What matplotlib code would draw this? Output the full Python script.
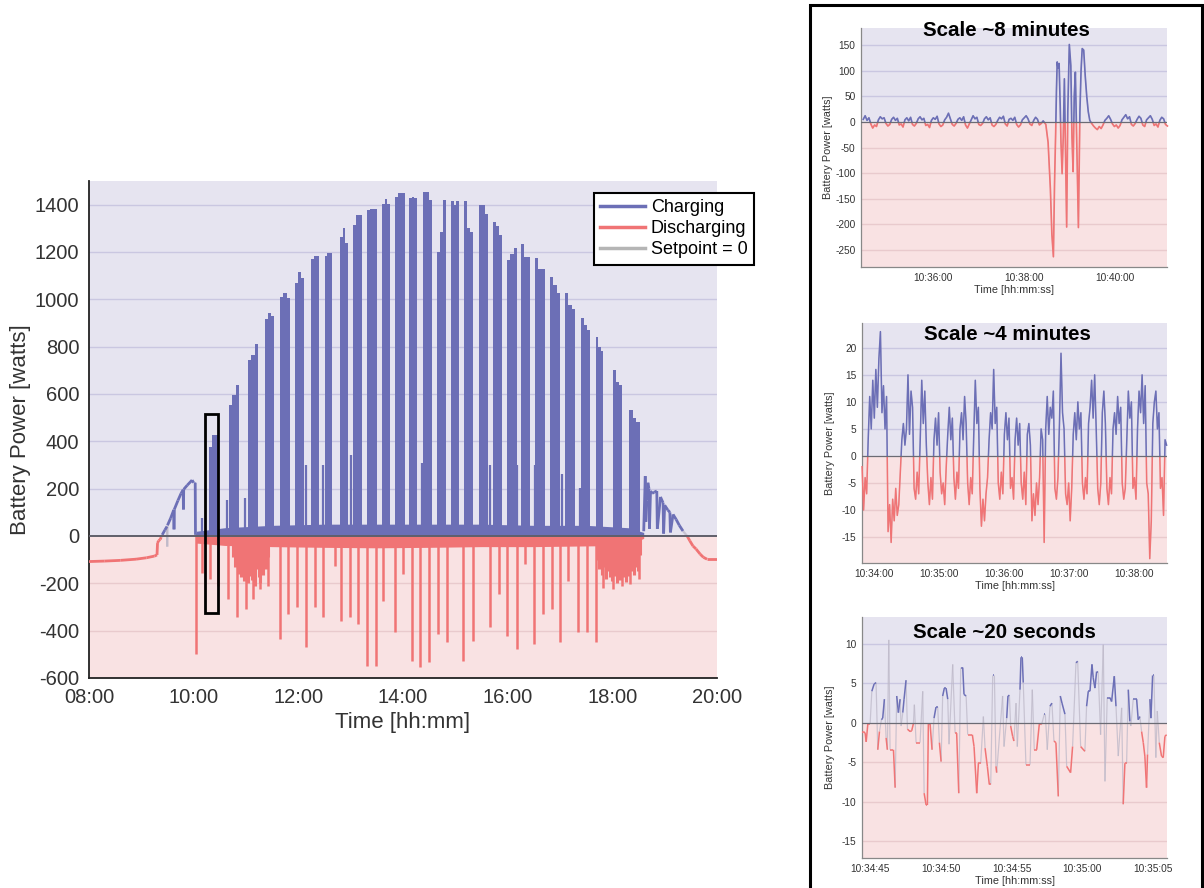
import numpy as np
import matplotlib.pyplot as plt
from matplotlib.collections import LineCollection
from matplotlib.lines import Line2D
from matplotlib.patches import Rectangle
from matplotlib.ticker import FuncFormatter

plt.rcParams['font.family'] = ['Liberation Sans', 'DejaVu Sans']
plt.rcParams['axes.unicode_minus'] = False

BLUE = '#6c6fb6'
RED = '#f07475'
CROSS = '#bdb8c8'
TOP_BG = '#e6e4f0'
BOT_BG = '#f9e2e3'
TOP_GRID = '#cac7e1'
BOT_GRID = '#e9cacd'

# ---------------- main chart data (time in hours, power in watts) ----------------
morning_h = [8.00, 8.30, 8.60, 8.90, 9.10, 9.25, 9.30, 9.31, 9.33, 9.36, 9.38, 9.40, 9.45,
             9.49, 9.495, 9.50, 9.56, 9.62, 9.625, 9.63, 9.70, 9.76, 9.80, 9.805, 9.81,
             9.88, 9.97, 10.00, 10.03, 10.035, 10.06]
morning_w = [-108, -106, -103, -98, -92, -85, -80, -30, -20, -15, -5, 5, 25,
             40, -45, 45, 75, 110, 28, 112, 150, 180, 195, 112, 197,
             215, 236, 225, 225, 5, 3]

evening_h = [18.60, 18.63, 18.64, 18.66, 18.68, 18.70, 18.71, 18.73, 18.76, 18.80, 18.85,
             18.86, 18.92, 18.97, 18.98, 19.00, 19.06, 19.10, 19.11, 19.16, 19.22, 19.28,
             19.35, 19.43, 19.48, 19.54, 19.60, 19.68, 19.74, 19.81, 20.00]
evening_w = [20, 253, 60, 150, 225, 200, 30, 190, 180, 185, 190,
             30, 165, 140, 10, 130, 110, 100, 15, 91, 70, 45,
             21, 0, -20, -42, -55, -77, -90, -98, -98]

cluster_start = [10.293, 10.675, 11.038, 11.363, 11.650, 11.936, 12.242, 12.510, 12.796, 13.045,
                 13.312, 13.599, 13.847, 14.115, 14.382, 14.650, 14.917, 15.166, 15.452, 15.720,
                 15.987, 16.255, 16.522, 16.809, 17.096, 17.401, 17.688, 18.013, 18.318]
cluster_end = [10.465, 10.866, 11.229, 11.535, 11.841, 12.108, 12.395, 12.643, 12.949, 13.217,
               13.503, 13.752, 14.038, 14.268, 14.554, 14.822, 15.070, 15.338, 15.624, 15.892,
               16.178, 16.427, 16.713, 17.000, 17.287, 17.573, 17.822, 18.185, 18.529]
cluster_peaks = [[376, 428, 428], [555, 597, 639], [744, 765, 810], [916, 941, 930],
                 [1011, 1028, 1005], [1070, 1117, 1092], [1170, 1184, 1184], [1184, 1197, 1197],
                 [1264, 1300, 1240], [1313, 1355, 1355], [1376, 1383, 1383], [1404, 1423, 1404],
                 [1433, 1448, 1448], [1426, 1433, 1426], [1453, 1453, 1420], [1200, 1285, 1421],
                 [1416, 1400, 1416], [1416, 1300, 1285], [1397, 1400, 1360], [1327, 1310, 1270],
                 [1166, 1190, 1215], [1233, 1180, 1180], [1173, 1128, 1130], [1096, 1060, 1025],
                 [1025, 976, 960], [920, 890, 870], [840, 800, 780], [702, 650, 640],
                 [534, 500, 480]]

red_spike_h = [10.045, 10.159, 10.312, 10.465, 10.656, 10.828, 11.00, 11.134, 11.268, 11.42,
               11.65, 11.80, 11.975, 12.146, 12.318, 12.471, 12.70, 12.815, 12.987, 13.14,
               13.31, 13.48, 13.62, 13.85, 14.00, 14.17, 14.325, 14.50, 14.67, 14.84,
               15.146, 15.34, 15.66, 15.83, 15.99, 16.18, 16.33, 16.50, 16.675, 16.85,
               17.00, 17.15, 17.34, 17.515, 17.69, 17.82, 18.01, 18.18, 18.34, 18.51]
red_spike_w = [-499, -155, -183, -211, -267, -344, -309, -267, -225, -211,
               -435, -330, -302, -470, -302, -344, -126, -358, -344, -372,
               -548, -548, -274, -407, -161, -527, -555, -534, -414, -449,
               -527, -442, -386, -246, -421, -477, -119, -456, -330, -309,
               -449, -190, -407, -407, -449, -218, -225, -211, -204, -183]

blue_spike_h = [10.16, 10.54, 10.64, 10.98, 12.15, 12.47, 12.85, 13.00, 13.88, 14.19,
                14.36, 14.73, 15.66, 16.06, 16.18, 16.52, 16.87, 17.04, 17.38, 17.76]
blue_spike_w = [77, 28, 150, 161, 302, 302, 512, 344, 372, 330,
                309, 274, 302, 344, 302, 302, 330, 260, 204, 218]

floor_h = [10.05, 10.6, 11.5, 12.5, 13.5, 14.5, 15.5, 16.5, 17.5, 18.3, 18.6]
floor_blue = [20, 35, 45, 50, 50, 50, 50, 45, 45, 35, 15]
floor_red = [-30, -40, -45, -48, -50, -48, -45, -45, -42, -40, -10]

# dense streaks of discharge around 11:00 and 18:00
mass1_h = [10.76, 10.79, 10.82, 10.85, 10.88, 10.91, 10.94, 10.97, 11.00, 11.03, 11.06, 11.09,
           11.12, 11.15, 11.18, 11.21, 11.24, 11.27, 11.30, 11.33, 11.36, 11.39, 11.42]
mass1_w = [-90, -130, -110, -160, -140, -175, -120, -190, -150, -200, -170, -130,
           -185, -160, -210, -140, -175, -200, -150, -165, -120, -140, -90]
mass2_h = [17.72, 17.75, 17.78, 17.81, 17.84, 17.87, 17.90, 17.93, 17.96, 17.99, 18.02, 18.05,
           18.08, 18.11, 18.14, 18.17, 18.20, 18.23, 18.26, 18.29, 18.32, 18.35, 18.38, 18.41,
           18.44, 18.47, 18.50, 18.53]
mass2_w = [-100, -140, -120, -165, -130, -180, -150, -120, -175, -190, -140, -170,
           -200, -150, -185, -130, -175, -160, -195, -140, -170, -150, -120, -165,
           -130, -110, -150, -80]

zoom_box = (10.217, 10.465, -324, 514)   # hours, hours, watts, watts
main_yticks = list(range(-600, 1401, 200))
main_xticks = [8, 10, 12, 14, 16, 18, 20]

# ---------------- inset 1: ~8 minutes ----------------
i1_start = '10:34:28'
i1_noise_a = [5, 12, 3, 8, -4, -12, -6, -9, 4, 10, 6, 8, -3, -8, -5, 5, 9, 3, 7, -6,
              -4, -10, 4, 8, 2, 9, -5, -8, -3, 6, 10, 4, 7, -7, -5, -11, 3, 8, 5, 11,
              -4, -9, -6, 4, 9, 17, 6, -5, -8, -3, 5, 8, 3, 10, -6, -12, -4, 4, 12, 6,
              9, -5, -7, -3, 6, 10, 4, 8, -6, -9, -5, 3, 9, 6, 11, -4, -8, 5, 7, 3,
              9, -5, -10, -6, 4, 8, 12, 6, -4, -7, 3, 9, 5, -6, -3, 2]
i1_burst_s = [241, 244, 247, 249, 251, 252.5, 254, 255, 256, 257, 258.5, 260, 261, 262.5,
              264, 265.5, 267, 268.5, 270, 272, 274, 275.5, 277, 278.5, 280, 282, 284, 286,
              287.5, 289, 291, 293, 295, 297, 299]
i1_burst_w = [-5, -40, -130, -220, -263, -120, -20, 60, 117, 105, 114, 30, -40, -101,
              -30, 84, -60, -205, 20, 151, 110, -30, -97, 50, 97, -60, -206, 20,
              100, 143, 140, 90, 50, 20, 3]
i1_noise_b = [-3, -8, -12, -15, -9, -13, -6, 3, 7, 12, 5, -4, -9, -6, -12, -7, 4, 9, 14, 6,
              10, -5, -8, -3, 5, 11, 7, -6, -9, 4, 8, 12, 5, -7, -4, -10, 3, 9, 6, -5, -8]
i1_step = 2.5

# ---------------- inset 2: ~4 minutes ----------------
i2_start = '10:33:49'
i2_step = 1.41
i2_w = [-2, -10, -4, -7, 3, 11, 5, 14, 7, 16, 9, 18, 23, 8, 13, 5, 11, -14, -9, -16,
        -8, -12, -6, -11, -9, -3, 3, 6, 2, 5, 15, 4, 12, 9, -6, -8, -3, -7, 3, 14,
        6, 12, 2, -5, -9, -4, -8, 3, 7, 2, 8, -3, -7, -5, -9, -2, 4, 9, 3, 7,
        -4, -8, -3, -6, 5, 8, 3, 11, 6, -5, -9, -4, -7, 4, 14, 6, 9, -6, -13, -8,
        -12, -7, -4, 3, 8, 5, 16, 6, 9, -5, -8, -3, -7, 4, 8, 3, 7, -6, -4, -8,
        3, 7, 2, 6, -5, -8, -3, -9, 4, 6, 2, -12, -7, -11, -5, -9, -4, 5, 3, -16,
        5, 11, 4, 9, 7, 12, -6, -8, -4, 6, 19, 8, 5, -7, -9, -5, -12, -6, 4, 8,
        3, 10, 5, 8, -5, -8, -4, -7, 6, 9, 14, 7, 15, 5, -6, -9, -5, 8, 12, 6,
        -6, -9, -4, -7, 5, 8, 4, 11, 6, 9, -5, -8, -6, 3, 12, 7, 10, -6, -4, -8,
        5, 12, 8, 15, 6, 13, -5, -7, -19, -12, 6, 10, 12, 5, 8, -6, -4, -11, 3, 2]

# ---------------- inset 3: ~20 seconds ----------------
i3_start = '10:34:45'
i3_s = [-0.64, -0.47, -0.35, -0.28, -0.16, 0.0, 0.12, 0.28, 0.42, 0.54,
        0.66, 0.80, 0.89, 1.01, 1.13, 1.22, 1.32, 1.41, 1.65, 1.77,
        1.88, 2.00, 2.12, 2.19, 2.31, 2.40, 2.54, 2.64, 2.83, 2.94,
        3.06, 3.13, 3.25, 3.53, 3.72, 3.82, 3.96, 4.05, 4.12, 4.24,
        4.38, 4.52, 4.66, 4.78, 4.90, 5.02, 5.13, 5.25, 5.37, 5.49,
        5.58, 5.84, 6.01, 6.12, 6.27, 6.41, 6.55, 6.64, 6.79, 6.90,
        7.23, 7.35, 7.54, 7.66, 7.82, 8.01, 8.13, 8.29, 8.43, 8.53,
        8.67, 8.79, 8.90, 8.95, 9.37, 9.47, 9.66, 9.75, 9.85, 9.94,
        10.08, 10.17, 10.32, 10.41, 10.60, 10.67, 10.76, 10.83, 11.02, 11.31,
        11.47, 11.61, 11.78, 11.97, 12.13, 12.32, 12.39, 12.53, 12.72, 12.86,
        13.00, 13.14, 13.31, 13.45, 13.57, 13.78, 13.90, 14.18, 14.32, 14.56,
        14.68, 14.89, 15.19, 15.31, 15.43, 15.55, 15.69, 15.78, 15.90, 16.02,
        16.13, 16.30, 16.49, 16.61, 16.77, 16.96, 17.08, 17.27, 17.39, 17.55,
        17.79, 17.90, 18.02, 18.14, 18.26, 18.37, 18.44, 18.61, 18.73, 18.85,
        18.96, 19.08, 19.20, 19.32, 19.43, 19.55, 19.62, 19.79, 19.86, 19.98,
        20.07, 20.21, 20.31, 20.45, 20.61, 20.73, 20.85, 20.97]
i3_w = [-1.3, -1.1, -1.3, -2.4, -0.1, -0.1, 4.0, 4.9, 5.1, -3.4,
        -1.1, 0.4, 0.6, 3.0, -1.9, -3.4, 10.5, -3.4, -3.4, -8.2,
        3.4, 1.3, 3.0, -0.4, 1.3, 3.0, 5.4, -0.8, -1.1, -1.0,
        -0.1, 2.3, -2.5, -2.5, 4.0, -8.9, -10.4, -10.4, -0.1, -0.1,
        -3.4, 0.6, 2.0, 2.0, -2.5, -4.9, 3.4, 4.4, 4.4, 3.0,
        -2.7, 7.4, -1.3, -1.3, -8.9, 7.0, 7.0, 3.6, 3.4, -1.5,
        -1.5, -3.0, -8.9, -5.1, -5.1, 0.8, -3.2, -5.5, -7.8, -7.8,
        6.0, 6.0, -5.5, -6.3, 3.4, -3.0, 0.6, 3.4, 3.5, -0.4,
        -1.7, -2.3, 2.5, -3.0, 4.2, 8.3, 8.3, 5.1, -5.3, -5.3,
        4.2, -3.4, -3.4, -0.1, -0.2, 1.1, 1.1, -3.4, 2.1, 2.5,
        -2.3, -2.5, -9.3, 3.4, 2.5, 1.1, -5.5, -6.3, -3.0, 7.6,
        7.8, -3.0, -3.6, 2.1, 4.0, 4.0, 7.4, 5.7, 4.4, 6.5,
        6.5, -1.5, 9.9, -7.4, 3.2, 3.2, 2.7, 5.9, 2.1, -4.2,
        1.9, -10.3, -5.1, -5.1, 4.2, 0.2, -0.4, 3.0, 3.0, 3.0,
        0.4, 0.8, -1.1, -2.5, -4.2, -8.2, -4.0, 3.0, 0.6, 6.0,
        6.0, -4.4, 1.5, -2.5, -4.2, -4.4, -1.7, -1.5]


def clock(s):
    parts = s.split(':')
    return int(parts[0]) * 3600 + int(parts[1]) * 60 + (float(parts[2]) if len(parts) > 2 else 0)


def hms(x, pos):
    x = int(round(x))
    return f'{x // 3600:02d}:{x % 3600 // 60:02d}:{x % 60:02d}'


def background(ax, lo, hi, yticks):
    ax.set_ylim(lo, hi)
    ax.axhspan(0, hi, color=TOP_BG, lw=0, zorder=0)
    ax.axhspan(lo, 0, color=BOT_BG, lw=0, zorder=0)
    for y in yticks:
        if y != 0:
            ax.axhline(y, color=TOP_GRID if y > 0 else BOT_GRID, lw=1, zorder=0.5)
    ax.set_yticks(yticks)
    for s in ('top', 'right'):
        ax.spines[s].set_visible(False)


def signed_line(ax, t, w, lw):
    # blue where both ends are above zero, red where both are below, faint grey across zero
    t = np.asarray(t, float)
    w = np.asarray(w, float)
    pts = np.column_stack([t, w])
    segs = np.stack([pts[:-1], pts[1:]], axis=1)
    a, b = w[:-1], w[1:]
    pos = (a > 0) & (b > 0)
    neg = (a <= 0) & (b <= 0)
    cross = ~(pos | neg)
    ax.add_collection(LineCollection(segs[cross], colors=CROSS, linewidths=lw * 0.8,
                                     alpha=0.75, zorder=2))
    ax.add_collection(LineCollection(segs[pos], colors=BLUE, linewidths=lw, zorder=3))
    ax.add_collection(LineCollection(segs[neg], colors=RED, linewidths=lw, zorder=3))


def clipped_line(ax, t, w, lw, lo, hi):
    # one line, painted blue above zero and red below
    ax.plot(t, w, color=CROSS, lw=lw * 0.7, alpha=0.6, zorder=2)
    x0, x1 = t[0] - 1e3, t[-1] + 1e3
    up, = ax.plot(t, w, color=BLUE, lw=lw, zorder=3)
    up.set_clip_path(Rectangle((x0, 0), x1 - x0, hi, transform=ax.transData))
    dn, = ax.plot(t, w, color=RED, lw=lw, zorder=3)
    dn.set_clip_path(Rectangle((x0, lo), x1 - x0, -lo, transform=ax.transData))


fig = plt.figure(figsize=(12.04, 8.88), dpi=100)

# ---------------- main chart ----------------
ax = fig.add_axes([0.0739, 0.2365, 0.5216, 0.5597])
background(ax, -600, 1500, main_yticks)
ax.set_xlim(8, 20)

ax.fill_between(floor_h, 0, floor_blue, color=BLUE, lw=0, zorder=2)
ax.fill_between(floor_h, 0, floor_red, color=RED, lw=0, zorder=2)
ax.vlines(mass1_h, 0, mass1_w, color=RED, lw=2.2, zorder=2)
ax.vlines(mass2_h, 0, mass2_w, color=RED, lw=2.2, zorder=2)

for t0, t1, pk in zip(cluster_start, cluster_end, cluster_peaks):
    edges = np.linspace(t0, t1, len(pk) + 1)
    ax.fill_between(edges, 0, list(pk) + [pk[-1]], step='post', color=BLUE, lw=0, zorder=2)

ax.vlines(red_spike_h, 0, red_spike_w, color=RED, lw=1.8, zorder=2)
ax.vlines(blue_spike_h, 0, blue_spike_w, color=BLUE, lw=1.6, zorder=2)
signed_line(ax, morning_h, morning_w, 2.0)
signed_line(ax, evening_h, evening_w, 2.0)
ax.axhline(0, color='#5f5f6a', lw=1.4, zorder=4)

bx0, bx1, by0, by1 = zoom_box
ax.add_patch(Rectangle((bx0, by0), bx1 - bx0, by1 - by0, fill=False,
                       edgecolor='black', lw=2.0, zorder=6))

ax.set_xticks(main_xticks)
ax.set_xticklabels([f'{h:02d}:00' for h in main_xticks])
ax.tick_params(length=0, labelsize=14.5, colors='#333333', pad=7)
for s in ('left', 'bottom'):
    ax.spines[s].set_color('#222222')
    ax.spines[s].set_linewidth(1.3)
ax.set_ylabel('Battery Power [watts]', fontsize=16, color='#333333')
ax.set_xlabel('Time [hh:mm]', fontsize=16, color='#333333')
ax.yaxis.set_label_coords(-0.093, 0.5)
ax.xaxis.set_label_coords(0.5, -0.068)

handles = [Line2D([], [], color=BLUE, lw=2.5),
           Line2D([], [], color=RED, lw=2.5),
           Line2D([], [], color='#b5b5b5', lw=2.5)]
leg = fig.legend(handles, ['Charging', 'Discharging', 'Setpoint = 0'],
                 loc='upper left', bbox_to_anchor=(594 / 1204, 1 - 193 / 888),
                 fontsize=13, fancybox=False, framealpha=1, edgecolor='black',
                 borderpad=0.35, labelspacing=0.22, handlelength=2.5,
                 handletextpad=0.3, borderaxespad=0)
leg.get_frame().set_linewidth(1.5)

# ---------------- right-hand panel ----------------
fig.patches.append(Rectangle((810 / 1204, -0.02), 392 / 1204, 1 - 5 / 888 + 0.02,
                             transform=fig.transFigure, fill=False,
                             edgecolor='black', lw=2.2))


def inset(rect, t, w, xlim, lo, hi, yticks, xticks, lw, title, tx, ty, clip):
    a = fig.add_axes(rect)
    background(a, lo, hi, yticks)
    if clip:
        clipped_line(a, np.asarray(t, float), np.asarray(w, float), lw, lo, hi)
    else:
        signed_line(a, t, w, lw)
    a.axhline(0, color='#6b6b74', lw=0.9, zorder=4)
    a.set_xlim(*xlim)
    a.set_xticks([clock(x) for x in xticks])
    a.xaxis.set_major_formatter(FuncFormatter(hms))
    a.tick_params(length=0, labelsize=7.3, colors='#333333', pad=4)
    for s in ('left', 'bottom'):
        a.spines[s].set_color('#888888')
        a.spines[s].set_linewidth(0.9)
    a.set_ylabel('Battery Power [watts]', fontsize=7.8, color='#333333')
    a.set_xlabel('Time [hh:mm:ss]', fontsize=7.8, color='#333333')
    a.yaxis.set_label_coords(-0.09, 0.5)
    a.xaxis.set_label_coords(0.5, -0.075)
    fig.text(tx / 1204, 1 - ty / 888, title, ha='center', va='center',
             fontsize=14.8, fontweight='bold')
    return a


t1a = clock(i1_start) + np.arange(len(i1_noise_a)) * i1_step
t1b = clock(i1_start) + np.asarray(i1_burst_s)
t1c = clock(i1_start) + 301.5 + np.arange(len(i1_noise_b)) * i1_step
inset([0.7151, 0.6993, 0.2542, 0.2691],
      np.r_[t1a, t1b, t1c], i1_noise_a + i1_burst_w + i1_noise_b,
      (clock('10:34:25'), clock('10:41:09')), -283, 183, list(range(-250, 151, 50)),
      ['10:36:00', '10:38:00', '10:40:00'], 1.2, 'Scale ~8 minutes', 1006, 31, True)

t2 = clock(i2_start) + np.arange(len(i2_w)) * i2_step
inset([0.716, 0.366, 0.2533, 0.2703], t2, i2_w,
      (clock('10:33:49'), clock('10:38:30')), -19.8, 24.6, list(range(-15, 21, 5)),
      ['10:34:00', '10:35:00', '10:36:00', '10:37:00', '10:38:00'], 1.1,
      'Scale ~4 minutes', 1007, 335, True)

t3 = clock(i3_start) + np.asarray(i3_s)
inset([0.716, 0.0338, 0.2533, 0.2714], t3, i3_w,
      (clock(i3_start) - 0.57, clock('10:35:06')), -17.1, 13.4, list(range(-15, 11, 5)),
      ['10:34:45', '10:34:50', '10:34:55', '10:35:00', '10:35:05'], 1.1,
      'Scale ~20 seconds', 1004, 632, False)

fig.savefig('out.png', dpi=100)
